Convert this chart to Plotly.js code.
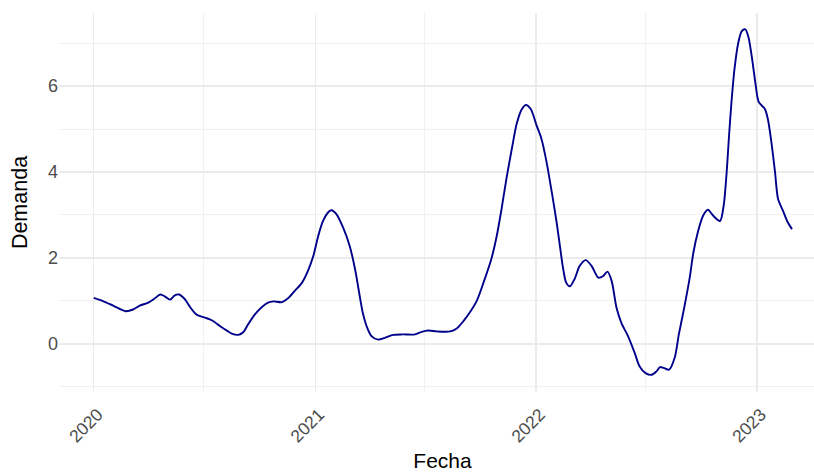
<!DOCTYPE html>
<html>
<head>
<meta charset="utf-8">
<script src="https://cdn.plot.ly/plotly-3.0.1.min.js"></script>
<style>
html, body { margin: 0; padding: 0; overflow: hidden; background: #fff; }
#chart { width: 826px; height: 473px; }
</style>
</head>
<body>
<div id="chart"></div>
<script>
const fechas = [
  '2020-01-01','2020-01-17','2020-02-02','2020-02-23','2020-03-06','2020-03-17','2020-03-31','2020-04-11',
  '2020-04-20','2020-04-28','2020-05-06','2020-05-14','2020-05-21','2020-05-30','2020-06-08','2020-06-19',
  '2020-07-03','2020-07-14','2020-07-28','2020-08-10','2020-08-16','2020-08-27','2020-09-04','2020-09-12',
  '2020-09-23','2020-10-05','2020-10-15','2020-10-24','2020-11-07','2020-11-17','2020-11-28','2020-12-10',
  '2020-12-20','2020-12-29','2021-01-06','2021-01-14','2021-01-23','2021-01-28','2021-02-05','2021-02-16',
  '2021-02-27','2021-03-08','2021-03-16','2021-03-21','2021-03-27','2021-04-04','2021-04-15','2021-04-26',
  '2021-05-10','2021-05-26','2021-06-15','2021-06-26','2021-07-07','2021-07-21','2021-08-12','2021-08-23',
  '2021-09-03','2021-09-14','2021-09-25','2021-10-06','2021-10-19','2021-10-28','2021-11-05','2021-11-13',
  '2021-11-22','2021-11-30','2021-12-08','2021-12-15','2021-12-23','2022-01-02','2022-01-10','2022-01-18',
  '2022-01-27','2022-02-04','2022-02-10','2022-02-15','2022-02-20','2022-02-26','2022-03-06','2022-03-14',
  '2022-03-24','2022-04-03','2022-04-14','2022-04-22','2022-04-29','2022-05-06','2022-05-14','2022-05-22',
  '2022-06-02','2022-06-13','2022-06-21','2022-07-01','2022-07-11','2022-07-19','2022-07-25','2022-07-31',
  '2022-08-09','2022-08-18','2022-08-25','2022-09-03','2022-09-12','2022-09-18','2022-09-26','2022-10-04',
  '2022-10-12','2022-10-21','2022-11-01','2022-11-07','2022-11-12','2022-11-16','2022-11-20','2022-11-25',
  '2022-12-01','2022-12-07','2022-12-13','2022-12-18','2022-12-24','2022-12-30','2023-01-04','2023-01-14',
  '2023-01-19','2023-01-25','2023-01-31','2023-02-05','2023-02-13','2023-02-21','2023-02-28'
];
const demanda = [
  1.07, 0.99, 0.89, 0.76, 0.80, 0.89, 0.96, 1.06,
  1.15, 1.10, 1.03, 1.13, 1.15, 1.05, 0.86, 0.68,
  0.61, 0.55, 0.41, 0.29, 0.24, 0.21, 0.27, 0.45,
  0.68, 0.86, 0.96, 0.99, 0.97, 1.06, 1.23, 1.42,
  1.70, 2.05, 2.51, 2.86, 3.07, 3.11, 3.02, 2.71,
  2.28, 1.73, 1.08, 0.70, 0.41, 0.18, 0.10, 0.14,
  0.21, 0.22, 0.22, 0.28, 0.31, 0.29, 0.29, 0.36,
  0.53, 0.74, 1.00, 1.42, 1.97, 2.51, 3.14, 3.84,
  4.54, 5.12, 5.45, 5.56, 5.47, 5.08, 4.77, 4.26,
  3.53, 2.83, 2.22, 1.73, 1.42, 1.34, 1.52, 1.81,
  1.95, 1.81, 1.54, 1.58, 1.68, 1.46, 0.84, 0.49,
  0.18, -0.21, -0.52, -0.68, -0.72, -0.64, -0.54, -0.56,
  -0.60, -0.33, 0.22, 0.85, 1.54, 2.12, 2.63, 2.98,
  3.12, 2.98, 2.86, 3.21, 3.99, 4.85, 5.63, 6.40,
  6.99, 7.28, 7.32, 7.14, 6.64, 6.02, 5.63, 5.47,
  5.24, 4.69, 3.99, 3.37, 3.10, 2.83, 2.67
];
const yTicks = [0, 2, 4, 6];

const fontFam = 'Liberation Sans, Arial, sans-serif';
const grid = '#EBEBEB';

const layout = {
  width: 826,
  height: 473,
  margin: { l: 59, r: 0, t: 13, b: 81, pad: 0 },
  paper_bgcolor: '#ffffff',
  plot_bgcolor: '#ffffff',
  showlegend: false,
  font: { family: fontFam, color: '#4D4D4D' },
  xaxis: {
    type: 'date',
    range: ['2019-11-04 14:00', '2023-04-25 05:00'],
    tick0: '2020-01-01',
    dtick: 'M12',
    tickformat: '%Y',
    tickangle: -45,
    ticks: '',
    ticklabelstandoff: 8,
    ticklabelshift: 4,
    showline: false,
    zeroline: false,
    showgrid: true,
    gridcolor: grid,
    gridwidth: 1.3,
    minor: { dtick: 'M6', tick0: '2020-01-01', showgrid: true, gridcolor: grid, gridwidth: 0.7, ticks: '' },
    tickfont: { family: fontFam, size: 17.5, color: '#4D4D4D' },
    title: { text: 'Fecha', font: { family: fontFam, size: 21, color: '#000000' }, standoff: 8 },
    automargin: false
  },
  yaxis: {
    range: [-1.12, 7.7],
    tickvals: yTicks,
    ticktext: yTicks.map(String),
    ticks: '',
    showline: false,
    zeroline: false,
    showgrid: true,
    gridcolor: grid,
    gridwidth: 1.3,
    minor: { dtick: 1, tick0: 0, showgrid: true, gridcolor: grid, gridwidth: 0.7, ticks: '' },
    tickfont: { family: fontFam, size: 18, color: '#4D4D4D' },
    title: { text: 'Demanda', font: { family: fontFam, size: 21.5, color: '#000000' }, standoff: 14 },
    automargin: false
  }
};

Plotly.newPlot('chart', [{
  x: fechas,
  y: demanda,
  type: 'scatter',
  mode: 'lines',
  line: { color: '#00008B', width: 1.9, shape: 'spline', smoothing: 0.8 },
  hoverinfo: 'skip'
}], layout, { staticPlot: true, displayModeBar: false });
</script>
</body>
</html>
